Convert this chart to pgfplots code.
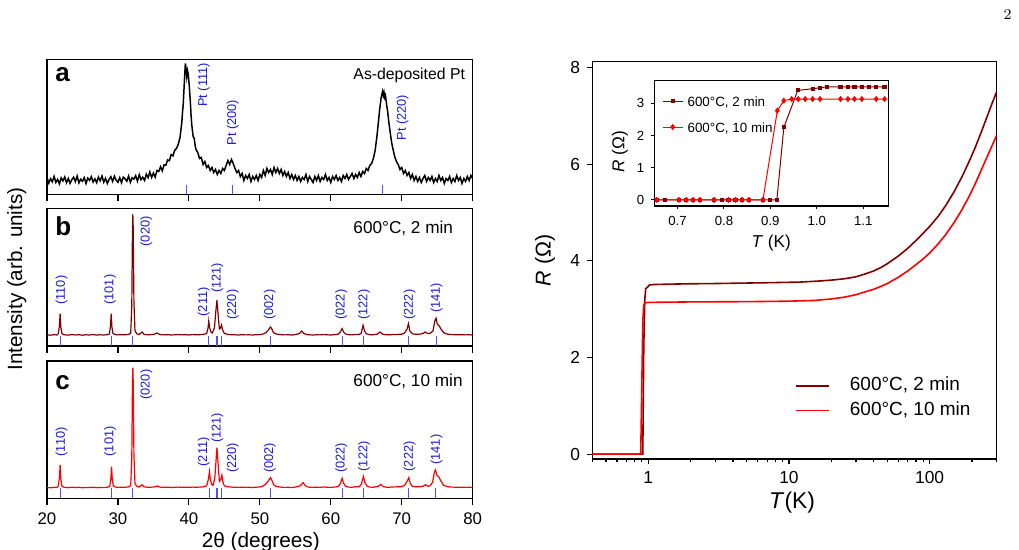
\documentclass[border=0pt]{standalone}
\usepackage{fontspec}
\setsansfont{Liberation Sans}
\usepackage{pgfplots}
\pgfplotsset{compat=1.18}
\definecolor{dred}{RGB}{128,0,0}
\definecolor{lblue}{RGB}{25,25,215}
\definecolor{mblue}{RGB}{80,80,240}
\tikzset{pk/.style={rotate=90, anchor=west, inner sep=0pt, text=lblue, font=\sffamily\fontsize{6.4}{7}\selectfont},
 ptxt/.style={anchor=west, inner sep=0pt, font=\sffamily\fontsize{8.6}{10}\selectfont},
 plet/.style={anchor=west, inner sep=0pt, font=\sffamily\bfseries\fontsize{13}{14}\selectfont}}
\pgfplotsset{
 xrd/.style={scale only axis, width=212.85pt, xmin=20, xmax=80, ymin=0,
   xtick={20,30,...,80}, ytick=\empty, xtick pos=left, tick align=outside,
   major tick length=3.5pt, axis line style={line width=0.75pt},
   every tick/.style={black, line width=0.6pt},
   tick label style={font=\sffamily\fontsize{8.4}{10}\selectfont},
   /pgf/number format/assume math mode=true}
}
\begin{document}
\begin{tikzpicture}
\useasboundingbox (0,0) rectangle (509.5pt,275pt);
\clip (0,0) rectangle (509.5pt,275pt);

% ---------- panel a ----------
\begin{axis}[xrd, at={(23.5pt,177.75pt)}, anchor=south west, height=67.5pt, ymax=135, xticklabels={}]
\addplot[black, line width=0.75pt] coordinates {
(20.00,17.0)(20.25,11.4)(20.50,15.7)(20.75,12.7)(21.00,18.1)(21.25,12.1)(21.50,15.1)(21.75,10.7)
(22.00,16.6)(22.25,13.6)(22.50,17.5)(22.75,11.8)(23.00,16.0)(23.25,11.1)(23.50,14.8)(23.75,17.3)
(24.00,12.9)(24.25,18.4)(24.50,11.6)(24.75,15.3)(25.00,13.2)(25.25,16.9)(25.50,10.9)(25.75,16.4)
(26.00,14.1)(26.25,17.8)(26.50,12.5)(26.75,15.6)(27.00,11.8)(27.25,17.4)(27.50,13.7)(27.75,18.5)
(28.00,12.3)(28.25,16.2)(28.50,11.0)(28.75,15.1)(29.00,17.8)(29.25,13.0)(29.50,18.3)(29.75,14.3)
(30.00,12.2)(30.25,16.8)(30.50,11.8)(30.75,17.4)(31.00,15.7)(31.25,13.3)(31.50,18.6)(31.75,12.2)
(32.00,16.8)(32.25,15.3)(32.50,18.8)(32.75,13.4)(33.00,19.9)(33.25,14.8)(33.50,17.2)(33.75,14.0)
(34.00,20.3)(34.25,16.8)(34.50,22.5)(34.75,17.0)(35.00,21.5)(35.25,17.3)(35.50,24.0)(35.75,23.0)
(36.00,27.7)(36.25,23.6)(36.50,29.6)(36.75,29.2)(37.00,34.5)(37.25,33.8)(37.50,39.9)(37.75,38.6)
(38.00,44.2)(38.25,46.0)(38.50,50.2)(38.75,57.0)(38.90,66)(39.00,72)(39.10,82)(39.20,90)
(39.30,104)(39.40,118)(39.50,131)(39.60,126)(39.70,118)(39.80,124)(39.90,121)(40.00,113)
(40.10,104)(40.20,93)(40.30,80)(40.40,70)(40.50,64)(40.60,58)(40.75,56)(40.90,48)
(41.00,45)(41.25,42)(41.50,36)(41.75,37)(42.00,30)(42.25,33)(42.50,27)(42.75,29)
(43.00,24)(43.25,27)(43.50,22)(43.75,25)(44.00,20)(44.25,24)(44.50,21)(44.75,26)
(45.00,24)(45.25,29)(45.50,34)(45.75,30)(46.00,35)(46.25,31)(46.50,26)(46.75,22)
(47.00,24)(47.25,18)(47.50,21)(47.75,14)(48.00,19)(48.25,16)(48.50,20)(48.75,13)
(49.00,18)(49.25,15)(49.50,19)(49.75,14)(50.00,20)(50.25,17)(50.50,24)(50.75,19)
(51.00,26)(51.25,22)(51.50,25)(51.75,20)(52.00,27)(52.25,22)(52.50,26)(52.75,21)
(53.00,25)(53.25,19)(53.50,23)(53.75,18)(54.00,22)(54.25,16)(54.50,20)(54.75,15)
(55.00,19)(55.25,14)(55.50,18)(55.75,13)(56.00,17)(56.25,15)(56.50,20)(56.75,13)
(57.00,18)(57.25,15)(57.50,12)(57.75,18)(58.00,14)(58.25,19)(58.50,13)(58.75,17)
(59.00,15)(59.25,20)(59.50,14)(59.75,17)(60.00,12)(60.25,18)(60.50,15)(60.75,19)
(61.00,14)(61.25,17)(61.50,13)(61.75,19)(62.00,16)(62.25,20)(62.50,15)(62.75,18)
(63.00,21)(63.25,16)(63.50,20)(63.75,17)(64.00,22)(64.25,18)(64.50,23)(64.75,21)
(65.00,26)(65.25,24)(65.50,29)(65.75,31)(66.00,36)(66.25,44)(66.50,58)(66.75,75)
(66.90,86)(67.00,91)(67.10,97)(67.20,100)(67.30,103)(67.40,99)(67.50,102)(67.60,97)
(67.70,99)(67.80,94)(67.90,88)(68.00,84)(68.15,74)(68.30,66)(68.45,58)(68.60,51)
(68.75,46)(69.00,38)(69.25,33)(69.50,30)(69.75,25)(70.00,27)(70.25,21)(70.50,24)
(70.75,19)(71.00,22)(71.25,16)(71.50,20)(71.75,14)(72.00,18)(72.25,13)(72.50,17)
(72.75,12)(73.00,16)(73.25,19)(73.50,13)(73.75,17)(74.00,14)(74.25,18)(74.50,12)
(74.75,16)(75.00,13)(75.25,19)(75.50,14)(75.75,17)(76.00,11)(76.25,16)(76.50,14)
(76.75,18)(77.00,12)(77.25,16)(77.50,13)(77.75,19)(78.00,14)(78.25,17)(78.50,11)
(78.75,16)(79.00,13)(79.25,18)(79.50,14)(79.75,19)(80.00,16)};
\addplot[ycomb, mblue, line width=0.6pt, no marks] coordinates {(39.66,9) (46.1,9) (67.3,9)};
\node[pk] at (axis cs:42.1,87.2) {Pt (111)};
\node[pk] at (axis cs:46.2,48.8) {Pt (200)};
\node[pk] at (axis cs:70.1,53.8) {Pt (220)};
\node[ptxt, font=\sffamily\fontsize{7.9}{10}\selectfont] at (rel axis cs:0.719,0.885) {As-deposited Pt};
\node[plet] at (rel axis cs:0.019,0.885) {a};
\end{axis}

% ---------- panel b ----------
\begin{axis}[xrd, at={(23.5pt,102pt)}, anchor=south west, height=68.75pt, ymax=137.5, xticklabels={}]
\addplot[dred, line width=0.6pt] coordinates {
(20.0,11.2)(20.5,10.8)(21.0,11.3)(21.4,11.0)(21.6,12.5)(21.75,20)(21.85,32.4)(21.95,19)(22.1,12.5)(22.4,11.2)
(23.0,10.9)(23.5,11.4)(24.0,11.0)(24.5,11.3)(25.0,10.8)(25.5,11.2)(26.0,11.0)(26.5,11.4)(27.0,10.9)(27.5,11.2)
(28.0,11.0)(28.5,11.3)(28.8,12.2)(28.95,20)(29.05,32.4)(29.15,19)(29.3,12.6)(29.6,11.4)(30.0,11.1)(30.5,11.3)
(31.0,11.2)(31.5,11.6)(31.8,13)(31.95,40)(32.05,120)(32.1,131.5)(32.15,118)(32.25,45)(32.4,15)(32.7,12)
(33.0,11.5)(33.4,14)(33.7,11.6)(34.2,11.2)(35.0,11.5)(35.5,13)(35.9,11.4)(36.5,11.1)(37.0,11.3)(37.5,11.0)
(38.0,11.2)(38.5,11.4)(39.0,11.1)(39.5,11.3)(40.0,11.0)(40.5,11.4)(41.0,11.2)(41.5,11.3)(42.0,11.5)(42.5,12.5)
(42.7,18)(42.8,25)(42.9,19)(43.1,14)(43.3,13)(43.6,18)(43.8,35)(43.95,45.7)(44.1,33)(44.3,17)
(44.45,18)(44.6,21)(44.75,16)(45.0,12.5)(45.5,11.6)(46.0,11.3)(46.5,11.2)(47.0,11.0)(47.5,11.3)(48.0,11.1)
(48.5,11.2)(49.0,11.0)(49.5,11.3)(50.0,11.4)(50.5,12.0)(50.9,13.5)(51.2,16)(51.5,19)(51.7,17)(51.9,13.5)
(52.3,12)(53.0,11.3)(53.5,11.1)(54.0,11.2)(54.5,11.0)(55.0,11.4)(55.6,12.5)(55.9,15)(56.2,12.4)(56.7,11.3)
(57.5,11.0)(58.0,11.2)(58.5,11.1)(59.0,11.4)(59.5,11.2)(60.0,11.0)(60.5,11.3)(61.0,11.8)(61.3,13.5)(61.6,17.4)
(61.8,14)(62.1,12)(62.5,11.3)(63.0,11.1)(63.5,11.5)(64.0,11.4)(64.3,13)(64.55,20.7)(64.75,15)(65.0,12.2)
(65.5,11.3)(66.0,11.2)(66.6,12)(66.95,14)(67.3,11.8)(67.8,11.2)(68.5,11.3)(69.0,11.5)(69.5,11.6)(70.0,11.8)
(70.4,13)(70.75,17)(70.95,22.4)(71.15,15)(71.5,12.2)(72.0,11.7)(72.5,11.8)(73.0,12.5)(73.3,14)(73.6,12.5)
(74.0,12.6)(74.4,15)(74.7,26)(74.85,27.7)(75.0,22)(75.3,20)(75.6,16)(76.0,12.8)(76.5,11.8)(77.0,11.4)
(77.5,11.3)(78.0,11.2)(78.5,11.3)(79.0,11.1)(79.5,11.2)(80.0,11.0)};
\addplot[ycomb, mblue, line width=0.6pt, no marks] coordinates {(21.85,10)(29.05,10)(32.1,10)(42.8,10)(43.95,10)(44.6,10)(51.5,10)(61.6,10)(64.65,10)(70.95,10)(74.85,10)};
\node[pk] at (axis cs:22.05,41) {(110)};
\node[pk] at (axis cs:28.9,41) {(101)};
\node[pk] at (axis cs:34.0,99.3) {(020)};
\node[pk] at (axis cs:42.1,29.3) {(211)};
\node[pk] at (axis cs:44.0,52.7) {(121)};
\node[pk] at (axis cs:46.2,26) {(220)};
\node[pk] at (axis cs:51.4,26) {(002)};
\node[pk] at (axis cs:61.5,26) {(022)};
\node[pk] at (axis cs:64.7,26) {(122)};
\node[pk] at (axis cs:71.1,26) {(222)};
\node[pk] at (axis cs:74.9,32.7) {(141)};
\node[ptxt] at (rel axis cs:0.719,0.857) {600°C, 2 min};
\node[plet] at (rel axis cs:0.019,0.873) {b};
\end{axis}

% ---------- panel c ----------
\begin{axis}[xrd, at={(23.5pt,25.85pt)}, anchor=south west, height=68.65pt, ymax=137.3]
\addplot[red, line width=0.6pt] coordinates {
(20.0,10.9)(20.5,10.5)(21.0,11.0)(21.4,10.8)(21.6,12.3)(21.75,20.5)(21.85,33.3)(21.95,19.5)(22.1,12.3)(22.4,11.0)
(23.0,10.6)(23.5,11.1)(24.0,10.7)(24.5,11.0)(25.0,10.5)(25.5,10.9)(26.0,10.7)(26.5,11.1)(27.0,10.6)(27.5,10.9)
(28.0,10.8)(28.5,11.0)(28.85,12.0)(29.0,19.5)(29.1,31.7)(29.2,18.5)(29.35,12.3)(29.7,11.2)(30.0,10.9)(30.5,11.0)
(31.0,11.0)(31.5,11.4)(31.8,13)(31.95,40)(32.05,119)(32.1,130.7)(32.15,117)(32.25,44)(32.4,14.5)(32.7,11.8)
(33.0,11.3)(33.4,13.5)(33.7,11.4)(34.2,11.0)(35.0,11.2)(35.6,12.3)(35.9,11.2)(36.5,10.9)(37.0,11.1)(37.5,10.8)
(38.0,11.0)(38.5,11.2)(39.0,10.9)(39.5,11.1)(40.0,10.9)(40.5,11.2)(41.0,11.0)(41.5,11.2)(42.0,11.4)(42.5,12.5)
(42.75,19)(42.9,26.7)(43.0,20)(43.2,14)(43.4,13)(43.65,20)(43.85,40)(43.95,50.7)(44.1,36)(44.3,17)
(44.5,19)(44.65,23.3)(44.8,16)(45.0,12.5)(45.5,11.5)(46.0,11.2)(46.5,11.0)(47.0,10.9)(47.5,11.1)(48.0,10.9)
(48.5,11.0)(49.0,10.8)(49.5,11.1)(50.0,11.3)(50.4,12.2)(50.8,14)(51.1,16.5)(51.35,19)(51.5,20.7)(51.7,18)
(51.95,13.5)(52.3,11.8)(53.0,11.1)(53.5,10.9)(54.0,11.0)(54.5,10.8)(55.0,11.2)(55.7,12.5)(56.1,15.7)(56.4,12.6)
(56.8,11.2)(57.5,10.9)(58.0,11.1)(58.5,10.9)(59.0,11.3)(59.5,11.0)(60.0,10.9)(60.5,11.2)(61.0,11.7)(61.3,14)
(61.6,20)(61.8,15)(62.1,12)(62.5,11.2)(63.0,11.0)(63.5,11.6)(64.0,11.5)(64.3,14)(64.6,21.7)(64.8,16)
(65.1,12.2)(65.5,11.2)(66.0,11.0)(66.7,12)(67.05,14)(67.4,11.7)(67.9,11.0)(68.5,11.2)(69.0,11.4)(69.5,11.5)
(70.0,11.7)(70.4,13)(70.8,17.5)(71.0,20.7)(71.2,15)(71.5,12)(72.0,11.5)(72.5,11.6)(73.0,12.0)(73.35,13.5)
(73.7,12)(74.0,12.5)(74.35,16)(74.6,26)(74.75,28.3)(74.95,23)(75.25,21)(75.55,17)(75.9,13)(76.5,11.6)
(77.0,11.2)(77.5,11.1)(78.0,11.0)(78.5,11.1)(79.0,10.9)(79.5,11.0)(80.0,10.8)};
\addplot[ycomb, mblue, line width=0.6pt, no marks] coordinates {(21.85,10)(29.1,10)(32.1,10)(42.85,10)(43.95,10)(44.65,10)(51.5,10)(61.6,10)(64.6,10)(70.95,10)(74.8,10)};
\node[pk] at (axis cs:22.05,41.6) {(110)};
\node[pk] at (axis cs:28.9,41.6) {(101)};
\node[pk] at (axis cs:34.0,98.3) {(020)};
\node[pk] at (axis cs:42.1,31.6) {(211)};
\node[pk] at (axis cs:44.0,55) {(121)};
\node[pk] at (axis cs:46.2,25) {(220)};
\node[pk] at (axis cs:51.4,25) {(002)};
\node[pk] at (axis cs:61.5,25) {(022)};
\node[pk] at (axis cs:64.7,26.6) {(122)};
\node[pk] at (axis cs:71.1,26.6) {(222)};
\node[pk] at (axis cs:74.9,33.3) {(141)};
\node[ptxt] at (rel axis cs:0.719,0.854) {600°C, 10 min};
\node[plet] at (rel axis cs:0.019,0.84) {c};
\end{axis}

\node[rotate=90, font=\sffamily\fontsize{10.3}{12}\selectfont] at (8.35pt,135.5pt) {Intensity (arb. units)};
\node[font=\sffamily\fontsize{10.4}{12}\selectfont] at (130.4pt,4.0pt) {2θ (degrees)};

% ---------- main R(T) ----------
\begin{axis}[scale only axis, at={(296.15pt,45.5pt)}, anchor=south west,
  width=202.2pt, height=198.65pt, xmode=log, xmin=0.4, xmax=300, ymin=-0.1, ymax=8.12,
  xtick={1,10,100}, xticklabels={1,10,100},
  minor xtick={0.4,0.5,0.6,0.7,0.8,0.9,2,3,4,5,6,7,8,9,20,30,40,50,60,70,80,90,200,300},
  ytick={0,2,4,6,8}, tick align=outside, xtick pos=left, ytick pos=left,
  major tick length=2.6pt, minor tick length=1.7pt,
  axis line style={line width=0.75pt}, every tick/.style={black, line width=0.6pt},
  tick label style={font=\sffamily\fontsize{8.7}{10}\selectfont},
  /pgf/number format/assume math mode=true,
  xlabel={\textit{T}(K)}, ylabel={\textit{R} (Ω)},
  xlabel style={at={(axis description cs:0.494,-0.111)}, anchor=center, font=\sffamily\fontsize{11.4}{13}\selectfont},
  ylabel style={at={(axis description cs:-0.117,0.5)}, anchor=center, font=\sffamily\fontsize{10.7}{13}\selectfont},
  legend style={at={(axis description cs:0.501,0.213)}, anchor=north west, draw=none, fill=none,
    font=\sffamily\fontsize{9.5}{11}\selectfont, inner sep=0pt, row sep=1.45pt,
    nodes={inner sep=1pt, text height=0.7em, text depth=0.2em},
    /tikz/every odd column/.append style={column sep=9pt}},
  legend cell align=left,
  legend image code/.code={\draw[#1] (0pt,0pt) -- (16.5pt,0pt);}]
\addplot[dred, line width=0.8pt] coordinates {
(0.4,0)(0.914,0)(0.929,2.25)(0.945,3.2)(0.959,3.42)(0.991,3.46)(1.02,3.50)(1.1,3.51)(1.3,3.515)(1.6,3.52)
(2,3.525)(3,3.53)(5,3.54)(8,3.55)(12,3.56)(16,3.58)(20,3.60)(25,3.63)(30,3.67)(35,3.73)(40,3.79)(45,3.86)
(50,3.94)(60,4.10)(70,4.26)(80,4.42)(90,4.57)(100,4.71)(115,4.92)(130,5.14)(150,5.44)(170,5.74)(190,6.04)
(210,6.33)(230,6.62)(250,6.90)(275,7.22)(300,7.50)};
\addlegendentry{600°C, 2 min}
\addplot[red, line width=0.8pt] coordinates {
(0.4,0)(0.884,0)(0.915,2.77)(0.929,3.08)(0.946,3.13)(1,3.14)(2,3.15)(5,3.155)(10,3.165)(15,3.18)(20,3.21)
(25,3.25)(30,3.30)(35,3.36)(40,3.41)(45,3.47)(50,3.53)(60,3.66)(70,3.79)(80,3.92)(90,4.04)(100,4.16)
(115,4.35)(130,4.54)(150,4.80)(170,5.06)(190,5.32)(210,5.58)(230,5.84)(250,6.08)(275,6.35)(300,6.60)};
\addlegendentry{600°C, 10 min}
\end{axis}

% ---------- inset ----------
\begin{axis}[scale only axis, at={(327.15pt,172pt)}, anchor=south west,
  width=117pt, height=62.65pt, xmin=0.65, xmax=1.154, ymin=-0.19, ymax=3.70,
  xtick={0.7,0.8,0.9,1.0,1.1}, ytick={0,1,2,3}, tick align=outside, xtick pos=left, ytick pos=left,
  major tick length=1.5pt, axis background/.style={fill=white},
  axis line style={line width=0.6pt}, every tick/.style={black, line width=0.5pt},
  tick label style={font=\sffamily\fontsize{6.6}{8}\selectfont},
  xticklabel style={/pgf/number format/.cd, fixed, fixed zerofill, precision=1},
  /pgf/number format/assume math mode=true,
  xlabel={\textit{T} (K)}, ylabel={\textit{R} (Ω)},
  xlabel style={at={(axis description cs:0.5,-0.298)}, anchor=center, font=\sffamily\fontsize{8.6}{10}\selectfont},
  ylabel style={at={(axis description cs:-0.147,0.433)}, anchor=center, font=\sffamily\fontsize{8.6}{10}\selectfont},
  legend style={at={(axis description cs:0.032,0.928)}, anchor=north west, draw=none, fill=none,
    font=\sffamily\fontsize{6.7}{8}\selectfont, inner sep=0pt, row sep=1.97pt,
    nodes={inner sep=1pt, text height=0.7em, text depth=0.2em},
    /tikz/every odd column/.append style={column sep=1.2pt}},
  legend cell align=left,
  legend image code/.code={\draw[mark repeat=2,mark phase=2,#1] plot coordinates {(0pt,0pt) (5pt,0pt) (10pt,0pt)};}]
\addplot[dred, line width=0.5pt, mark=square*, mark size=0.8pt] coordinates {
(0.655,0)(0.673,0)(0.703,0)(0.719,0)(0.734,0)(0.748,0)(0.779,0)(0.795,0)(0.810,0)(0.825,0)(0.839,0)(0.854,0)
(0.884,0)(0.899,0)(0.914,0)(0.929,2.25)(0.959,3.40)(0.991,3.45)(1.007,3.48)(1.022,3.51)(1.051,3.51)(1.067,3.51)
(1.081,3.51)(1.097,3.51)(1.112,3.51)(1.128,3.51)(1.146,3.51)};
\addlegendentry{600°C, 2 min}
\addplot[red, line width=0.5pt, mark=diamond*, mark size=1.2pt] coordinates {
(0.655,0)(0.703,0)(0.719,0)(0.734,0)(0.748,0)(0.779,0)(0.810,0)(0.825,0)(0.839,0)(0.854,0)
(0.884,0)(0.915,2.77)(0.929,3.08)(0.946,3.13)(0.960,3.13)(0.975,3.13)(0.991,3.13)(1.007,3.13)(1.051,3.13)
(1.067,3.13)(1.081,3.13)(1.097,3.13)(1.128,3.13)(1.146,3.13)};
\addlegendentry{600°C, 10 min}
\end{axis}

\node[font=\rmfamily\fontsize{7.5}{9}\selectfont] at (503.85pt,267.5pt) {2};
\end{tikzpicture}
\end{document}
